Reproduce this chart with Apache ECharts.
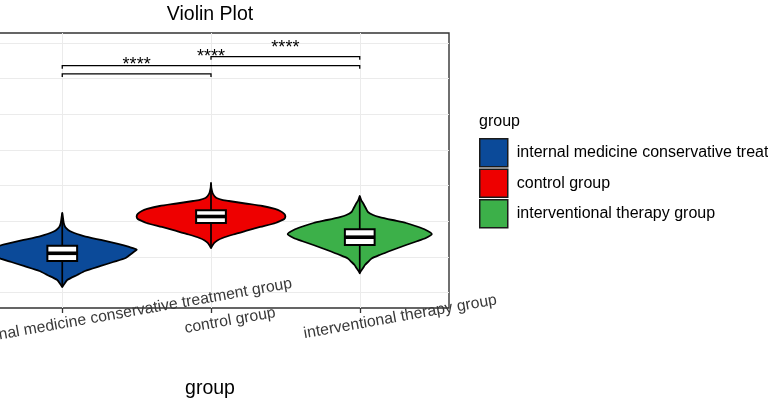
<!DOCTYPE html>
<html><head><meta charset="utf-8">
<script src="https://cdn.jsdelivr.net/npm/echarts@6/dist/echarts.min.js"></script>
<style>html,body{margin:0;padding:0;background:#fff}#c{width:768px;height:402px}</style>
</head><body><div id="c"></div>
<script>
// ---------- data ----------
const groupNames = ['internal medicine conservative treatment group', 'control group', 'interventional therapy group'];

// violin outlines: y value and relative density (half-width, 0..1)
const violinY0 = [22.31, 20.90, 19.50, 18.38, 17.54, 16.97, 16.41, 15.85, 14.73, 13.61, 12.77, 12.07, 11.36, 10.52, 9.68, 8.56, 7.44, 6.03, 4.91, 3.51, 2.39, 1.54];
const violinW0 = [0, 0.01, 0.02, 0.04, 0.08, 0.13, 0.2, 0.29, 0.52, 0.75, 0.90, 1.0, 0.96, 0.907, 0.853, 0.685, 0.517, 0.307, 0.2, 0.067, 0.027, 0];
const violinY1 = [30.72, 29.32, 27.92, 27.08, 26.52, 25.95, 25.67, 24.97, 24.27, 23.43, 22.87, 22.03, 21.32, 20.62, 20.06, 19.50, 18.38, 17.26, 16.27, 15.29, 14.59, 13.89, 13.05, 12.49];
const violinW1 = [0, 0.005, 0.021, 0.045, 0.075, 0.16, 0.24, 0.46, 0.69, 0.86, 0.93, 0.985, 1.0, 0.985, 0.93, 0.867, 0.66, 0.467, 0.3, 0.155, 0.085, 0.044, 0.015, 0];
const violinY2 = [27.08, 25.95, 25.11, 23.71, 22.59, 21.74, 21.18, 20.34, 19.50, 18.52, 17.54, 16.41, 15.29, 14.31, 13.33, 11.92, 10.52, 9.54, 8.56, 7.72, 6.87, 6.03, 5.39];
const violinW2 = [0, 0.02, 0.044, 0.08, 0.11, 0.18, 0.267, 0.44, 0.623, 0.77, 0.889, 0.969, 0.889, 0.76, 0.623, 0.44, 0.267, 0.16, 0.11, 0.07, 0.044, 0.015, 0];

// box stats: [min, q1, median, q3, max]
const boxStats0 = [1.7, 8.84, 11.0, 13.13, 22.2];
const boxStats1 = [12.7, 19.50, 21.32, 23.06, 30.5];
const boxStats2 = [5.5, 13.33, 15.52, 17.73, 26.9];

// significance brackets
const sigPairs = [[0, 1], [0, 2], [1, 2]];
const sigHeights = [61.31, 63.64, 66.16];
const sigLabels = ['****', '****', '****'];

// y axis (hidden in the crop)
const yMin = 0, yMax = 70, yStep = 10;

// ---------- chart ----------
const violinY = [violinY0, violinY1, violinY2];
const violinW = [violinW0, violinW1, violinW2];
const boxStats = [boxStats0, boxStats1, boxStats2];
const colors = ['#0b4a99', '#ee0000', '#3cb049'];
const FONT = '"Liberation Sans", Arial, Helvetica, sans-serif';
const maxHalf = 0.5, boxHalf = 0.1;
const LABEL_FS = 15.8;

const meas = document.createElement('canvas').getContext('2d');
meas.font = LABEL_FS + 'px "Liberation Sans"';
const rich = {};
groupNames.forEach((n, i) => {
  rich['l' + i] = {padding: [0, 0, 0, 0.42 * meas.measureText(n).width], fontSize: LABEL_FS, color: '#383838', fontFamily: FONT};
});

function violinRender(i) {
  return function (params, api) {
    const ys = violinY[i], ws = violinW[i];
    const right = [], left = [];
    for (let k = 0; k < ys.length; k++) {
      right.push(api.coord([i + ws[k] * maxHalf, ys[k]]));
      left.push(api.coord([i - ws[k] * maxHalf, ys[k]]));
    }
    const pts = right.concat(left.reverse());
    const b = boxStats[i];
    const cx = api.coord([i, b[2]])[0];
    const xl = api.coord([i - boxHalf, b[2]])[0];
    const xr = api.coord([i + boxHalf, b[2]])[0];
    const yLo = api.coord([i, b[0]])[1], yQ1 = api.coord([i, b[1]])[1], yMed = api.coord([i, b[2]])[1];
    const yQ3 = api.coord([i, b[3]])[1], yHi = api.coord([i, b[4]])[1];
    return {
      type: 'group',
      children: [
        {type: 'polygon', shape: {points: pts, smooth: 0.2}, style: {fill: colors[i], stroke: '#000', lineWidth: 1.8, lineJoin: 'round'}},
        {type: 'line', shape: {x1: cx, y1: yHi, x2: cx, y2: yLo}, style: {stroke: '#000', lineWidth: 1.7}},
        {type: 'rect', shape: {x: xl, y: yQ3, width: xr - xl, height: yQ1 - yQ3}, style: {fill: '#fff', stroke: '#000', lineWidth: 2}},
        {type: 'line', shape: {x1: xl, y1: yMed, x2: xr, y2: yMed}, style: {stroke: '#000', lineWidth: 3.6}}
      ]
    };
  };
}

const series = groupNames.map((n, i) => ({
  type: 'custom',
  name: n,
  xAxisIndex: 2, yAxisIndex: 2,
  itemStyle: {color: colors[i], borderColor: '#1a1a1a', borderWidth: 1.5},
  renderItem: violinRender(i),
  data: [[i, boxStats[i][2]]],
  silent: true
}));

series.push({
  type: 'custom',
  name: 'signif',
  xAxisIndex: 2, yAxisIndex: 2,
  silent: true,
  data: sigPairs.map((p, k) => [p[0], sigHeights[k], p[1]]),
  renderItem: function (params, api) {
    const a = api.coord([api.value(0), api.value(1)]);
    const b = api.coord([api.value(2), api.value(1)]);
    const y = a[1];
    return {
      type: 'group',
      children: [
        {type: 'polyline', shape: {points: [[a[0], y + 3], [a[0], y], [b[0], y], [b[0], y + 3]]}, style: {stroke: '#000', lineWidth: 1.3, fill: null}},
        {type: 'text', x: (a[0] + b[0]) / 2, y: y - 9, style: {text: sigLabels[params.dataIndex], align: 'center', verticalAlign: 'middle', fontSize: 18, fontFamily: FONT, fill: '#000'}}
      ]
    };
  }
});

const chart = echarts.init(document.getElementById('c'), null, {renderer: 'canvas'});
chart.setOption({
  animation: false,
  backgroundColor: '#fff',
  title: [
    {text: 'Violin Plot', left: 210, top: 5, textAlign: 'center', padding: 0, textStyle: {fontSize: 19.5, fontWeight: 'normal', color: '#000', fontFamily: FONT, lineHeight: 19.5}},
    {text: 'group', left: 210, top: 379, textAlign: 'center', padding: 0, textStyle: {fontSize: 19.5, fontWeight: 'normal', color: '#000', fontFamily: FONT, lineHeight: 19.5}},
    {text: 'group', left: 479, top: 114, padding: 0, textStyle: {fontSize: 16, fontWeight: 'normal', color: '#000', fontFamily: FONT, lineHeight: 16}}
  ],
  legend: {
    orient: 'vertical', left: 479, top: 138, padding: 0,
    itemWidth: 28, itemHeight: 28, itemGap: 1, icon: 'rect',
    data: groupNames, selectedMode: false,
    itemStyle: {borderColor: '#1a1a1a', borderWidth: 1.5},
    textStyle: {fontSize: 16, color: '#000', fontFamily: FONT, padding: [0, 0, 0, 4]}
  },
  grid: [
    {left: -27, right: 319, top: 33, bottom: 94, show: true, borderColor: '#333', borderWidth: 1.4, backgroundColor: 'transparent', outerBoundsMode: 'none', containLabel: false},
    {left: 62.25, right: 408.25, top: 33, bottom: 94, show: false, outerBoundsMode: 'none', containLabel: false},
    {left: -27, right: 319, top: 43, bottom: 109.5, show: false, outerBoundsMode: 'none', containLabel: false}
  ],
  xAxis: [
    {gridIndex: 0, type: 'value', min: 0, max: 1, show: false},
    {
      gridIndex: 1, type: 'category', data: groupNames, boundaryGap: false,
      axisLine: {show: false},
      axisTick: {show: true, length: 5, lineStyle: {color: '#333', width: 1.3}},
      splitLine: {show: true, lineStyle: {color: '#ebebeb', width: 1}},
      axisLabel: {
        interval: 0, rotate: 10, margin: 16, align: 'center', verticalAlign: 'middle',
        fontSize: LABEL_FS, color: '#383838', fontFamily: FONT,
        formatter: (v, i) => '{l' + i + '|' + v + '}', rich: rich
      }
    },
    {gridIndex: 2, type: 'value', min: -0.6, max: 2.6, show: false}
  ],
  yAxis: [
    {gridIndex: 0, type: 'value', min: 0, max: 1, show: false},
    {gridIndex: 1, type: 'value', min: 0, max: 1, show: false},
    {
      gridIndex: 2, type: 'value', min: yMin, max: yMax, interval: yStep,
      axisLine: {show: false}, axisTick: {show: false}, axisLabel: {show: false},
      splitLine: {show: true, lineStyle: {color: '#ebebeb', width: 1}}
    }
  ],
  series: series
});
</script>
</body></html>
